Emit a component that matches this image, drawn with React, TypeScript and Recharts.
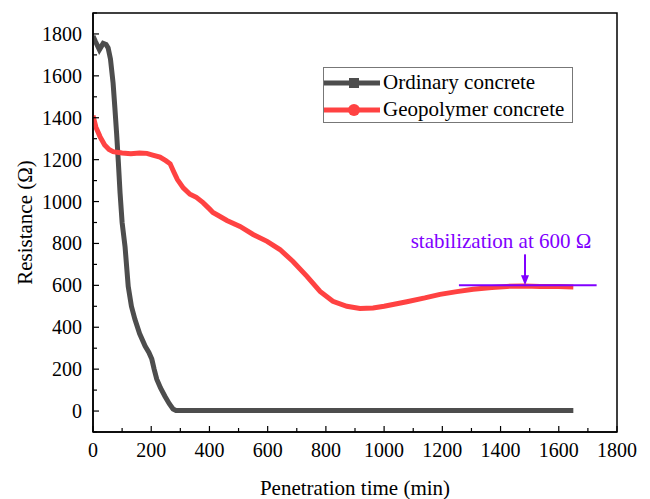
import React from 'react';
import {
    LineChart, Line, XAxis, YAxis, ReferenceLine, ReferenceArea,
} from 'recharts';

// Ordinary concrete (grey)
const ordTime = [0, 8, 22, 35, 45, 52, 60, 69, 75, 81, 87, 93, 100, 110, 121, 132, 144, 160, 179, 192, 202, 210, 219, 232, 247, 262, 275, 285, 400, 800, 1200, 1650];
const ordRes = [1790, 1765, 1725, 1755, 1750, 1733, 1680, 1566, 1450, 1328, 1190, 1040, 900, 786, 595, 500, 438, 370, 310, 280, 248, 200, 152, 110, 71, 35, 10, 3, 3, 3, 3, 3];

// Geopolymer concrete (red)
const geoTime = [0, 10, 24, 40, 55, 69, 100, 130, 160, 185, 205, 230, 250, 265, 278, 290, 310, 333, 355, 378, 400, 412, 435, 460, 505, 550, 598, 642, 687, 735, 780, 824, 872, 917, 962, 1000, 1078, 1140, 1192, 1250, 1306, 1370, 1422, 1480, 1536, 1600, 1650];
const geoRes = [1410, 1355, 1310, 1270, 1248, 1238, 1232, 1228, 1232, 1230, 1222, 1212, 1195, 1180, 1140, 1105, 1065, 1035, 1020, 995, 965, 948, 930, 910, 881, 843, 810, 771, 714, 643, 571, 524, 500, 490, 492, 500, 522, 540, 557, 570, 581, 590, 595, 597, 594, 594, 592];

const xTicks = [0, 100, 200, 300, 400, 500, 600, 700, 800, 900, 1000, 1100, 1200, 1300, 1400, 1500, 1600, 1700, 1800];
const yTicks = [-100, 0, 100, 200, 300, 400, 500, 600, 700, 800, 900, 1000, 1100, 1200, 1300, 1400, 1500, 1600, 1700, 1800, 1900];

// annotation
const stableLevel = 600;
const stableFrom = 1257;
const stableTo = 1730;
const arrowX = 1484;
const arrowTop = 748;
const noteText = 'stabilization at 600 Ω';

const ordData = ordTime.map((t, i) => ({ t, r: ordRes[i] }));
const geoData = geoTime.map((t, i) => ({ t, r: geoRes[i] }));

const PURPLE = '#8000ff';
const GREY = '#4d4d4d';
const RED = '#ff4242';
const FONT = '"Liberation Serif", "Times New Roman", serif';

const XTick = (props: any) => {
    const { x, y, payload } = props;
    const major = payload.value % 200 === 0;
    return (
        <g>
            <line x1={x} y1={y} x2={x} y2={y - (major ? 6 : 4)} stroke="#000" strokeWidth={1.2} />
            {major && (
                <text x={x} y={y + 25} textAnchor="middle" fontSize={20} fontFamily={FONT} fill="#000">{payload.value}</text>
            )}
        </g>
    );
};

const YTick = (props: any) => {
    const { x, y, payload } = props;
    const v = payload.value;
    const major = v % 200 === 0 && v >= 0 && v <= 1800;
    return (
        <g>
            <line x1={x} y1={y} x2={x + (major ? 6 : 4)} y2={y} stroke="#000" strokeWidth={1.2} />
            {major && (
                <text x={x - 11} y={y + 7} textAnchor="end" fontSize={20} fontFamily={FONT} fill="#000">{v}</text>
            )}
        </g>
    );
};

const Arrow = (props: any) => {
    const { x1, y1, x2, y2 } = props;
    return (
        <g>
            <line x1={x1} y1={y1} x2={x2} y2={y2 - 8} stroke={PURPLE} strokeWidth={2} />
            <polygon points={`${x2 - 4},${y2 - 10} ${x2 + 4},${y2 - 10} ${x2},${y2}`} fill={PURPLE} />
            <text x={x1 - 24} y={y1 - 6} textAnchor="middle" fontSize={21} fontFamily={FONT} fill={PURPLE}>{noteText}</text>
        </g>
    );
};

const LegendBox = () => (
    <div style={{ position: 'absolute', left: 323, top: 67, width: 250, height: 56, border: '1px solid #777', boxSizing: 'border-box', background: '#fff', fontSize: 21, color: '#000', fontFamily: FONT }}>
        <div style={{ display: 'flex', alignItems: 'center', height: 27, marginTop: 1 }}>
            <svg width={58} height={14} style={{ flex: 'none' }}>
                <line x1={0} y1={7} x2={56} y2={7} stroke={GREY} strokeWidth={5} />
                <rect x={25} y={2} width={10} height={10} fill={GREY} />
            </svg>
            <span style={{ marginLeft: 1, lineHeight: '27px' }}>Ordinary concrete</span>
        </div>
        <div style={{ display: 'flex', alignItems: 'center', height: 27 }}>
            <svg width={58} height={14} style={{ flex: 'none' }}>
                <line x1={0} y1={7} x2={56} y2={7} stroke={RED} strokeWidth={5} />
                <circle cx={30} cy={7} r={6} fill={RED} />
            </svg>
            <span style={{ marginLeft: 1, lineHeight: '27px' }}>Geopolymer concrete</span>
        </div>
    </div>
);

export default function App() {
    return (
        <div style={{ position: 'absolute', left: 0, top: 0, width: 650, height: 499, background: '#fff', fontFamily: FONT }}>
            <LineChart width={650} height={499} margin={{ top: 13, right: 33, left: 0, bottom: 0 }}>
                <XAxis
                    type="number"
                    dataKey="t"
                    domain={[0, 1800]}
                    ticks={xTicks}
                    interval={0}
                    height={67}
                    tickSize={0}
                    tickMargin={0}
                    tick={<XTick />}
                    axisLine={{ stroke: '#000', strokeWidth: 1.5 }}
                    allowDataOverflow
                    label={{ value: 'Penetration time (min)', position: 'center', dy: 22, fontSize: 21, fontFamily: FONT, fill: '#000' }}
                />
                <YAxis
                    type="number"
                    dataKey="r"
                    domain={[-100, 1900]}
                    ticks={yTicks}
                    interval={0}
                    width={93}
                    tickSize={0}
                    tickMargin={0}
                    tick={<YTick />}
                    axisLine={{ stroke: '#000', strokeWidth: 1.5 }}
                    allowDataOverflow
                    label={{ value: 'Resistance (Ω)', angle: -90, position: 'center', dx: -22, fontSize: 21, fontFamily: FONT, fill: '#000' }}
                />
                <ReferenceArea x1={0} x2={1800} y1={-100} y2={1900} fill="none" stroke="#000" strokeWidth={1.5} ifOverflow="visible" />
                <Line data={ordData} dataKey="r" name="Ordinary concrete" stroke={GREY} strokeWidth={5} dot={false} isAnimationActive={false} />
                <Line data={geoData} dataKey="r" name="Geopolymer concrete" stroke={RED} strokeWidth={5} dot={false} isAnimationActive={false} />
                <ReferenceLine
                    segment={[{ x: stableFrom, y: stableLevel }, { x: stableTo, y: stableLevel }]}
                    stroke={PURPLE}
                    strokeWidth={2}
                    ifOverflow="visible"
                />
                <ReferenceLine
                    segment={[{ x: arrowX, y: arrowTop }, { x: arrowX, y: stableLevel }]}
                    shape={<Arrow />}
                    ifOverflow="visible"
                />
            </LineChart>
            <LegendBox />
        </div>
    );
}
